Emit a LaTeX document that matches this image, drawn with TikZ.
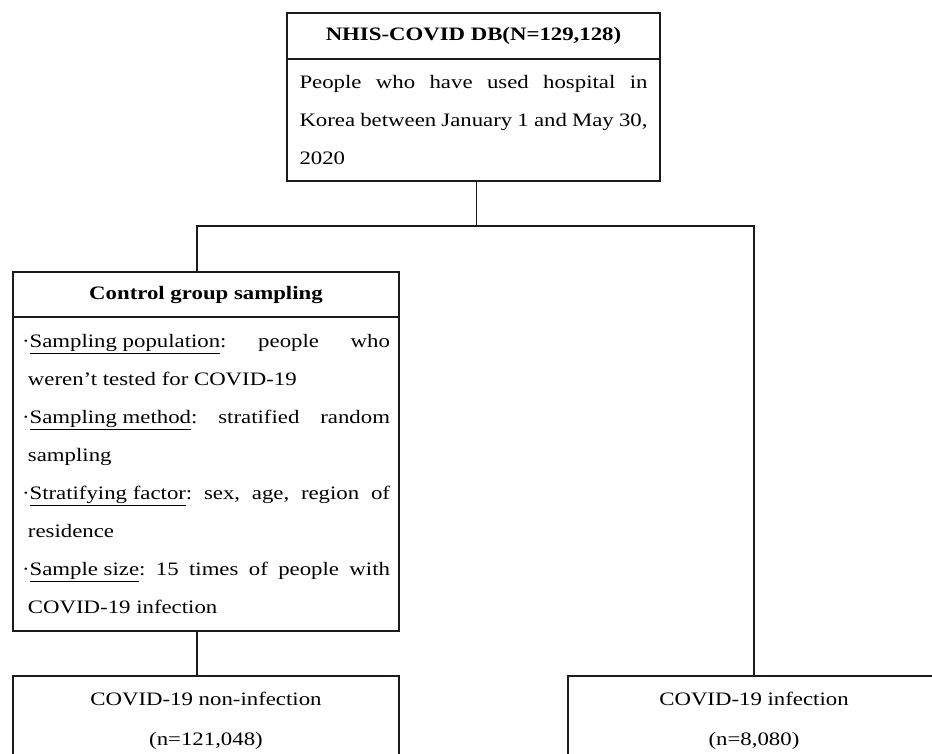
\documentclass[tikz,border=0pt]{standalone}
\usepackage{fontspec}
\setmainfont[FakeStretch=1.2]{Liberation Serif}
\usetikzlibrary{positioning}
\definecolor{lineGray}{RGB}{30,26,26}
% one bullet line of the sampling box
\newcommand\sampitem[3]{\hangindent=6pt\hangafter=1\relax
  ·\underline{#1}: #2\linebreak #3\par}

\begin{document}
\begin{tikzpicture}[
  x=1pt, y=-1pt,
  box/.style={draw=lineGray, line width=1.3pt, outer sep=0pt},
  hd/.style={box, anchor=north west, inner sep=0pt,
    font=\fontsize{19}{38}\selectfont\bfseries},
  bd/.style={box, inner ysep=0pt, align=justify,
    font=\fontsize{19}{38}\selectfont\frenchspacing},
  res/.style={box, anchor=north west, align=center, minimum height=90pt,
    font=\fontsize{19}{40}\selectfont},
  link/.style={draw=lineGray, line width=1.1pt},
]
  \useasboundingbox (0,0) rectangle (932,753);

  % database
  \node[hd, minimum width=373pt, minimum height=46pt] (dbhd) at (287,13)
    {NHIS-COVID DB(N=129,128)};
  \node[bd, below=0pt of dbhd, text width=348pt, inner xsep=12.5pt,
    minimum height=122pt] (dbbd)
    {People who have used hospital in\linebreak Korea between January 1
     and May 30,\linebreak 2020};

  % control group sampling
  \node[hd, minimum width=386pt, minimum height=45pt] (ctrlhd) at (13,272)
    {Control group sampling};
  \node[bd, below=0pt of ctrlhd, text width=368pt, inner xsep=9pt,
    minimum height=314pt] (ctrlbd)
    {\sampitem{Sampling population}{people who}{weren’t tested for COVID-19}
     \sampitem{Sampling method}{stratified random}{sampling}
     \sampitem{Stratifying factor}{sex, age, region of}{residence}
     \sampitem{Sample size}{15 times of people with}{COVID-19 infection}};

  % outcome groups
  \node[res, minimum width=386pt] (neg) at (13,676)
    {COVID-19 non-infection\\(n=121,048)};
  \node[res, minimum width=372pt] (pos) at (568,676)
    {COVID-19 infection\\(n=8,080)};

  % connectors
  \path (dbbd.south) ++(3,45) coordinate (fork);
  \draw[link] ([xshift=3pt]dbbd.south) -- (fork);
  \draw[link] ([xshift=-9pt]ctrlhd.north) |- (fork) -| (pos.north);
  \draw[link] ([xshift=-9pt]ctrlbd.south) -- ([xshift=-9pt]neg.north);
\end{tikzpicture}
\end{document}
